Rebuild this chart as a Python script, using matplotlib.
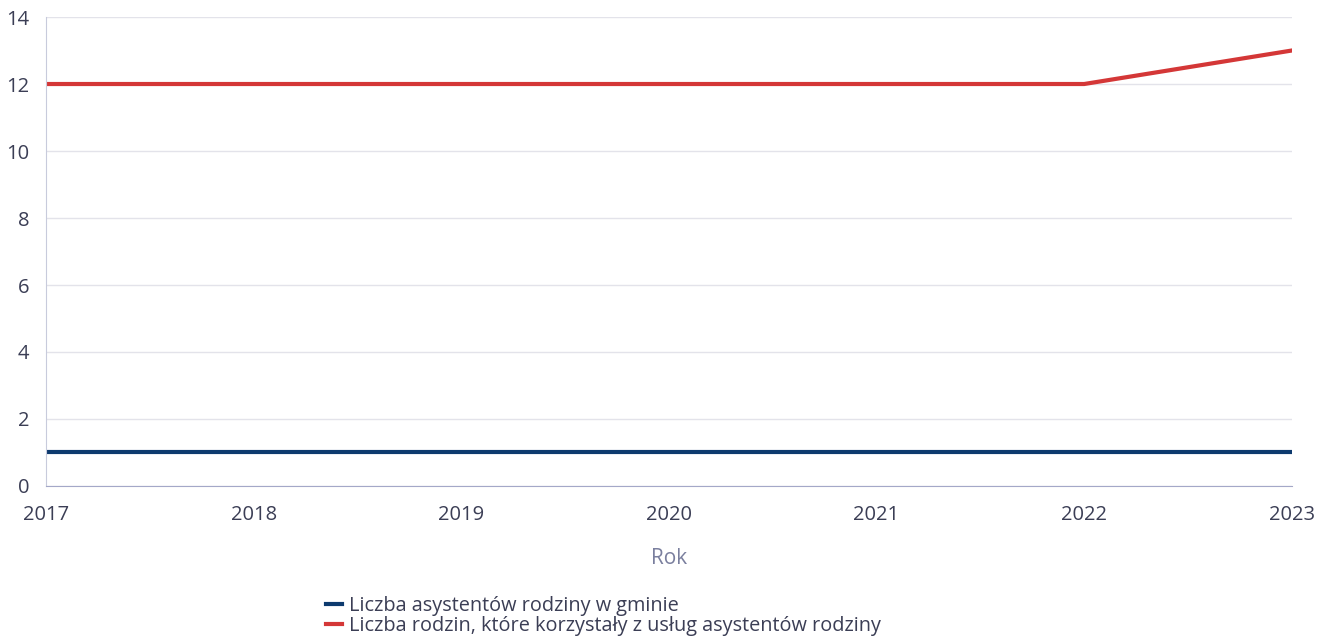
import matplotlib.pyplot as plt

years = [2017, 2018, 2019, 2020, 2021, 2022, 2023]
asystenci = [1, 1, 1, 1, 1, 1, 1]
rodziny = [12, 12, 12, 12, 12, 12, 13]

label_asystenci = "Liczba asystentów rodziny w gminie"
label_rodziny = "Liczba rodzin, które korzystały z usług asystentów rodziny"

plt.rcParams["font.family"] = ["Open Sans", "DejaVu Sans"]
text_color = "#3b3e55"

fig = plt.figure(figsize=(13.24, 6.42), dpi=100)
ax = fig.add_axes([0.0347, 0.243, 0.941, 0.7305])

ax.plot(years, asystenci, color="#0d3a6e", linewidth=3, label=label_asystenci)
ax.plot(years, rodziny, color="#d43737", linewidth=3, label=label_rodziny)

ax.set_xlim(2017, 2023)
ax.set_ylim(0, 14)
ax.set_yticks(range(0, 15, 2))
ax.set_xticks(years)
ax.grid(axis="y", color="#e3e3ea", linewidth=1)
ax.set_axisbelow(True)

for side in ["top", "right"]:
    ax.spines[side].set_visible(False)
ax.spines["left"].set_color("#c8cbdc")
ax.spines["bottom"].set_color("#a4a8c8")

ax.tick_params(length=0, labelsize=14.5, colors=text_color)
ax.tick_params(axis="y", pad=12)
ax.tick_params(axis="x", pad=14)

ax.set_xlabel("Rok", fontsize=15, color="#7a7f9e", labelpad=16)

ax.legend(loc="upper left", bbox_to_anchor=(0.2245, -0.234), frameon=False,
          fontsize=14.3, labelcolor=text_color, handlelength=0.8,
          handletextpad=0.4, labelspacing=0.0, borderaxespad=0,
          borderpad=0)

fig.savefig("out.png", dpi=100)
